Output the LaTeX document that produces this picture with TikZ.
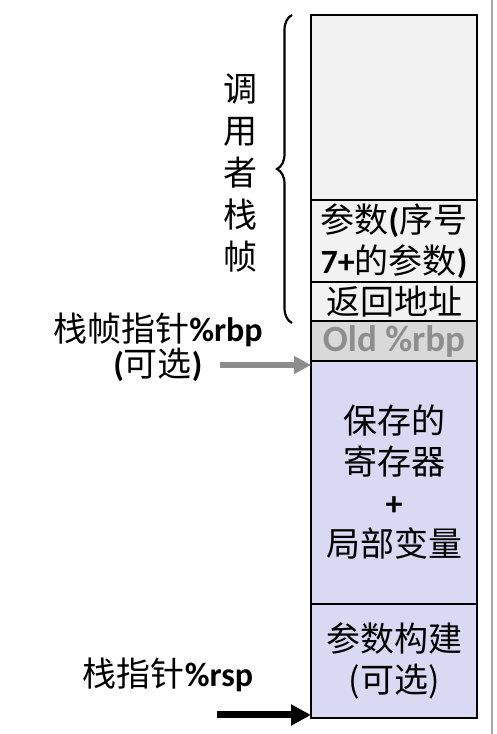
\documentclass[tikz,border=0pt]{standalone}
\usepackage{fontspec}
\setmainfont{Carlito}
\newfontfamily\cjk{Noto Sans CJK SC}
\usepackage{xcolor}
\usetikzlibrary{arrows.meta,positioning,decorations.pathreplacing}

\definecolor{frameGray}{HTML}{F2F2F2}
\definecolor{oldGray}{HTML}{D9D9D9}
\definecolor{oldText}{HTML}{8E8E8E}
\definecolor{calleeBlue}{HTML}{D9D9F3}
\definecolor{edgeGray}{HTML}{A6A6A6}
\newcommand{\lat}[1]{{\rmfamily\bfseries #1}}

\begin{document}
\begin{tikzpicture}[
    x=1pt, y=1pt,
    slot/.style={draw, line width=2.5pt, outer sep=0pt, inner sep=0pt,
      minimum width=166pt, align=center, font=\cjk\fontsize{34}{41}\selectfont},
    label/.style={align=center, font=\cjk\fontsize{34}{33}\selectfont},
    node distance=0pt,
]
\useasboundingbox (0,0) rectangle (496,734);

% stack, top to bottom
\node[slot, fill=frameGray, minimum height=185pt, anchor=north west] (caller) at (311,719) {};
\node[slot, fill=frameGray, minimum height=82pt, below=of caller] (args) {参数\lat{(}序号\\\lat{7+}的参数\lat{)}};
\node[slot, fill=frameGray, minimum height=39pt, below=of args] (ret) {返回地址};
\node[slot, fill=oldGray, minimum height=40pt, below=of ret, font=\rmfamily\bfseries\fontsize{37}{41}\selectfont, text=oldText] (oldrbp) {Old \%rbp};
\node[slot, fill=calleeBlue, minimum height=243pt, below=of oldrbp] (saved) {保存的\\寄存器\\\lat{+}\\局部变量};
\node[slot, fill=calleeBlue, minimum height=114pt, below=of saved] (build) {参数构建\\(可选)};

% caller frame brace
\draw[decorate, decoration={brace, amplitude=15pt}, line width=2.2pt]
  ([xshift=-19pt,yshift=-2pt]ret.south west) -- ([xshift=-19pt]caller.north west);
\node[label, font=\cjk\fontsize{34}{42}\selectfont] (callerlbl) at (240,561) {调\\用\\者\\栈\\帧};

% pointers
\node[label] (rbplbl) at (158,387) {栈帧指针\lat{\%rbp}\\\lat{(}可选\lat{)}};
\coordinate (rbptail) at (220,369);
\draw[-{Triangle[length=17pt,width=17pt]}, line width=6pt, draw=gray!90, color=gray!90]
  (rbptail) -- ([yshift=-4pt]saved.north west);

\node[label] (rsplbl) at (168,59) {栈指针\lat{\%rsp}};
\coordinate (rsptail) at (217,19);
\draw[-{Triangle[length=20pt,width=20pt]}, line width=7pt]
  (rsptail) -- ([yshift=3pt]build.south west);

% page edge
\draw[edgeGray, line width=1.5pt] (492,0) -- (492,734);
\end{tikzpicture}
\end{document}
